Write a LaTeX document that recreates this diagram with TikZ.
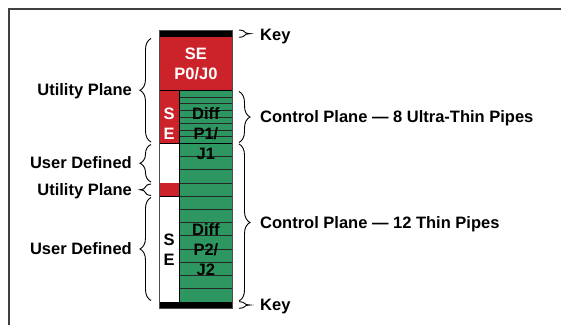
\documentclass[tikz,border=0pt]{standalone}
\usepackage{fontspec}
\setmainfont{Liberation Sans}
\usepackage{xcolor}
\usetikzlibrary{positioning, decorations.pathreplacing, calc}
\definecolor{seRed}{RGB}{204,34,41}
\definecolor{pipeGreen}{RGB}{46,150,96}

\begin{document}
\begin{tikzpicture}[
  x=1pt, y=-1pt,
  txt/.style={font=\fontsize{16.5}{20}\selectfont\bfseries, inner sep=0pt, align=center},
  lbl/.style={txt, anchor=base east},
  rlbl/.style={txt, anchor=base west},
  brc/.style={decorate, decoration={brace, amplitude=11pt}, line width=0.9pt},
  pipe/.style={line width=0.8pt, black!85},
  sep/.style={line width=1pt, black},
]
\useasboundingbox (0,0) rectangle (561,324);
\draw[line width=1.3pt, black!75] (570,9) -- (9,9) -- (9,330);

% ===================== column =====================
\fill[black] (159,30) rectangle (232.7,37.3);
\fill[seRed] (159,37.3) rectangle (232.7,90.7);
\fill[pipeGreen] (179,90.7) rectangle (232.7,301.7);
\fill[seRed] (159,90.7) rectangle (179,143.3);
\fill[seRed] (159,183) rectangle (179,196.3);
\fill[black] (159,301.7) rectangle (232.7,308.3);

% pipes
\foreach \k in {1,...,7}
  \draw[pipe] (179,{90.7+\k*6.575}) -- (232.7,{90.7+\k*6.575});
\foreach \k in {1,...,11}
  \draw[pipe] (179,{143.3+\k*13.2}) -- (232.7,{143.3+\k*13.2});

\draw[sep] (159,90.7) -- (232.7,90.7);
\draw[sep] (159,143.3) -- (232.7,143.3);
\draw[sep] (159,196.3) -- (179,196.3);
\draw[sep] (179,90.7) -- (179,301.7);
\draw[line width=0.8pt, black!70] (159,30) rectangle (232.7,308.3);

\node[txt, white] (se0) at (195.9,64.3) {SE\\P0/J0};
\node[txt, white] (se1) at (169,123.3) {S\\E};
\node[txt] (diff1) at (205.9,133.3) {Diff\\P1/\\J1};
\node[txt] (se2) at (169,249.3) {S\\E};
\node[txt] (diff2) at (205.9,249.3) {Diff\\P2/\\J2};

% ===================== left braces =====================
\coordinate (utilA-s) at (151,142);   \coordinate (utilA-e) at (151,38.5);
\coordinate (userA-s) at (151,182);   \coordinate (userA-e) at (151,144.5);
\coordinate (utilB-s) at (151,195.5); \coordinate (utilB-e) at (151,184);
\coordinate (userB-s) at (151,300.5); \coordinate (userB-e) at (151,197.5);
\draw[brc] (utilA-s) -- (utilA-e);
\draw[brc] (userA-s) -- (userA-e);
\draw[brc] (utilB-s) -- (utilB-e);
\draw[brc] (userB-s) -- (userB-e);

\node[lbl] (utilA) at (132,95.7) {Utility Plane};
\node[lbl] (userA) at (132,168.7) {User Defined};
\node[lbl] (utilB) at (132,195.2) {Utility Plane};
\node[lbl] (userB) at (132,254.2) {User Defined};

% ===================== right braces =====================
\coordinate (keyT-s) at (239,30);    \coordinate (keyT-e) at (239,37.3);
\coordinate (ctrlA-s) at (239,91.5); \coordinate (ctrlA-e) at (239,142.5);
\coordinate (ctrlB-s) at (239,144);  \coordinate (ctrlB-e) at (239,301);
\coordinate (keyB-s) at (239,301.7); \coordinate (keyB-e) at (239,308.3);
\draw[brc] (keyT-s) -- (keyT-e);
\draw[brc] (ctrlA-s) -- (ctrlA-e);
\draw[brc] (ctrlB-s) -- (ctrlB-e);
\draw[brc] (keyB-s) -- (keyB-e);

\node[rlbl] (keyT) at (260,40.3) {Key};
\node[rlbl] (ctrlA) at (260,122.7) {Control Plane --- 8 Ultra-Thin Pipes};
\node[rlbl] (ctrlB) at (260,228) {Control Plane --- 12 Thin Pipes};
\node[rlbl] (keyB) at (260,310) {Key};
\end{tikzpicture}
\end{document}
